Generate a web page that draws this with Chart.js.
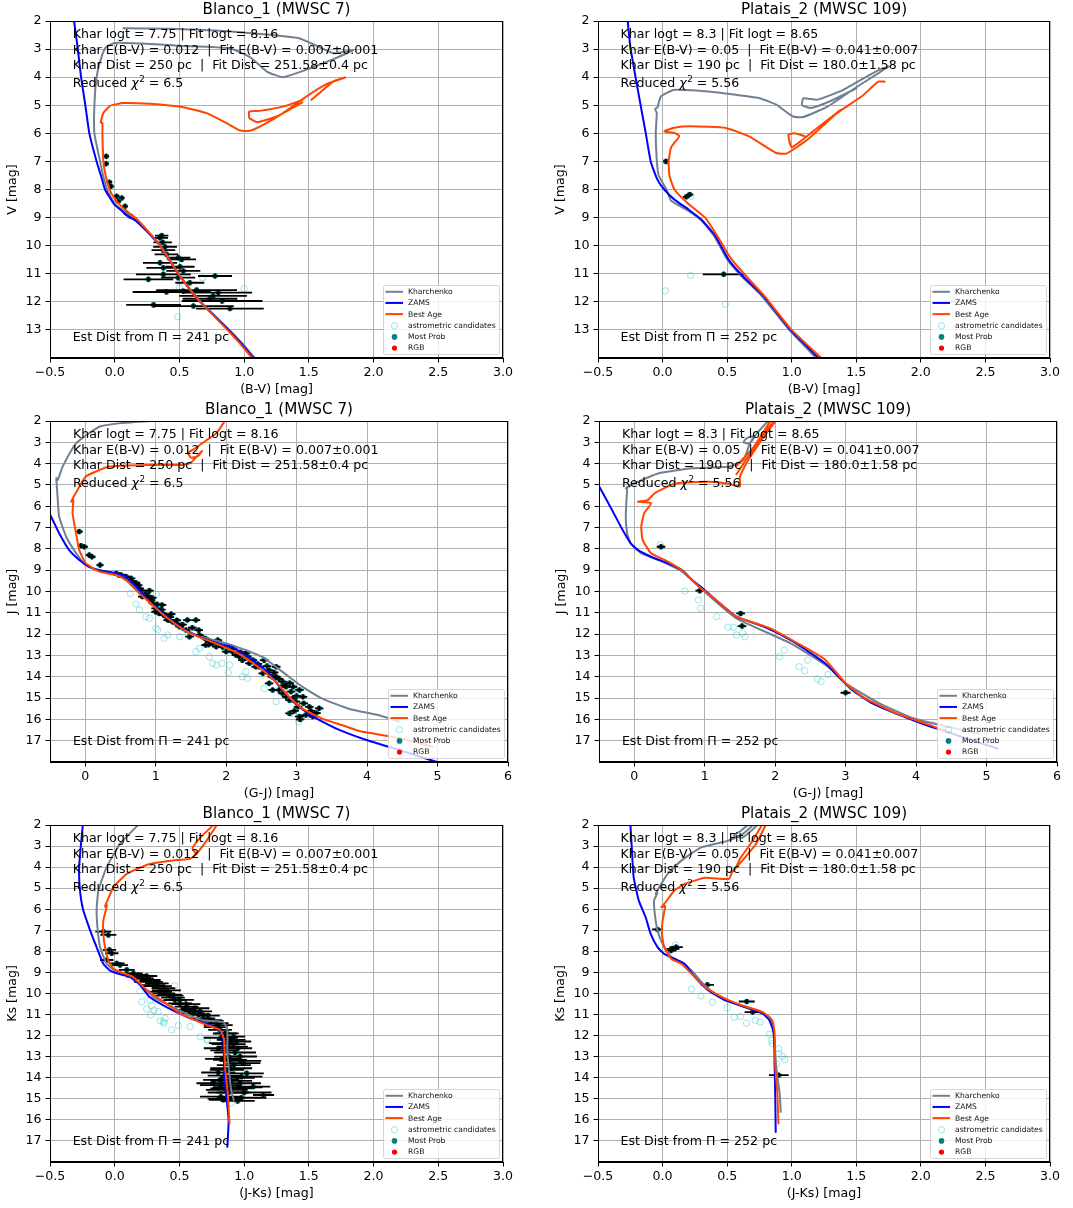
<!DOCTYPE html>
<html>
<head>
<meta charset="utf-8">
<script src="https://cdn.jsdelivr.net/npm/chart.js@4.4.1/dist/chart.umd.min.js"></script>
<style>
  body { margin: 0; background: #fff; width: 1073px; height: 1208px; position: relative; overflow: hidden; }
  canvas { position: absolute; }
</style>
</head>
<body>
<canvas id="c1"></canvas>
<canvas id="c2"></canvas>
<canvas id="c3"></canvas>
<canvas id="c4"></canvas>
<canvas id="c5"></canvas>
<canvas id="c6"></canvas>
<script>
// ---- text ----
const blancoTitle = 'Blanco_1 (MWSC 7)';
const plataisTitle = 'Platais_2 (MWSC 109)';
const blancoInfo = ['Khar logt = 7.75 | Fit logt = 8.16',
  'Khar E(B-V) = 0.012  |  Fit E(B-V) = 0.007\u00b10.001',
  'Khar Dist = 250 pc  |  Fit Dist = 251.58\u00b10.4 pc'];
const plataisInfo = ['Khar logt = 8.3 | Fit logt = 8.65',
  'Khar E(B-V) = 0.05  |  Fit E(B-V) = 0.041\u00b10.007',
  'Khar Dist = 190 pc  |  Fit Dist = 180.0\u00b11.58 pc'];
const blancoChi = '6.5', plataisChi = '5.56';
const blancoEst = 'Est Dist from \u03a0 = 241 pc', plataisEst = 'Est Dist from \u03a0 = 252 pc';
const legendLabels = ['Kharchenko', 'ZAMS', 'Best Age', 'astrometric candidates', 'Most Prob', 'RGB'];

// ---- Blanco_1, (B-V) vs V ----
const b1_bv_zams = [[-0.314,2],[-0.285,3],[-0.26,4],[-0.227,5],[-0.196,6],[-0.14,7],[-0.1,7.6],[-0.075,8],[-0.036,8.3],[0.0,8.55],[0.06,8.78],[0.1,8.95],[0.16,9.1],[0.25,9.5],[0.35,10],[0.42,10.5],[0.49,11],[0.57,11.5],[0.66,12],[0.77,12.5],[0.88,13],[0.98,13.5],[1.08,14.05]];
const b1_bv_khar = [[1.09,14.05],[0.99,13.5],[0.885,13],[0.775,12.5],[0.665,12],[0.575,11.5],[0.495,11],[0.425,10.5],[0.355,10],[0.26,9.5],[0.16,9.05],[0.08,8.8],[0.0,8.5],[-0.05,8.1],[-0.09,7.5],[-0.113,7],[-0.157,6],[-0.157,5],[-0.14,4],[-0.11,3.4],[-0.07,2.95],[0.0,2.78],[0.2,2.8],[0.5,2.88],[0.89,2.97],[1.05,3.3],[1.175,3.8],[1.30,4.0],[1.5,3.7],[1.69,3.36],[1.845,3.03],[1.69,3.15],[1.43,2.62],[0.92,2.38],[0.40,2.28],[0.067,2.26]];
const b1_bv_best = [[1.07,14.05],[0.97,13.5],[0.87,13],[0.765,12.5],[0.66,12],[0.57,11.5],[0.49,11],[0.42,10.5],[0.35,10],[0.26,9.5],[0.17,9.05],[0.1,8.8],[0.02,8.45],[-0.03,8.1],[-0.07,7.5],[-0.088,7],[-0.095,6],[-0.095,5.64],[-0.108,5.61],[-0.088,5.28],[-0.036,5.02],[0.067,4.92],[0.27,4.95],[0.53,5.07],[0.71,5.28],[0.866,5.64],[0.97,5.9],[1.046,5.91],[1.15,5.69],[1.30,5.28],[1.48,4.69],[1.64,4.24],[1.78,4.01],[1.69,4.15],[1.52,4.81],null,[1.45,4.81],[1.3,5.05],[1.12,5.2],[1.04,5.22],[1.04,5.45],[1.1,5.6],[1.25,5.4],[1.45,4.9]];
const b1_bv_astro = [[0.68,11.14],[1.0,11.53],[0.487,12.53],[0.5,11.5]];
// [colour, mag, colour error]
const b1_bv_prob = [[-0.065,6.82,0.01],[-0.067,7.08,0.01],[-0.041,7.74,0.01],[-0.029,7.89,0.01],[0.015,8.24,0.01],[0.028,8.42,0.01],[0.054,8.30,0.01],[0.08,8.6,0.01],[0.087,8.83,0.01],[0.123,8.95,0.01],
  [0.363,9.64,0.04],[0.35,9.72,0.05],[0.37,9.88,0.06],[0.389,10.04,0.08],[0.376,10.16,0.08],[0.40,10.31,0.08],[0.492,10.43,0.08],[0.517,10.49,0.1],[0.35,10.61,0.12],[0.505,10.75,0.1],[0.376,10.79,0.12],[0.53,10.9,0.12],[0.26,11.2,0.18],[0.376,11.02,0.2],[0.49,11.14,0.12],[0.775,11.08,0.12],[0.58,11.32,0.1],[0.633,11.58,0.3],[0.40,11.65,0.25],[0.53,11.62,0.2],[0.76,11.79,0.25],[0.80,11.67,0.25],[0.736,11.89,0.2],[0.83,11.97,0.3],[0.30,12.11,0.2],[0.608,12.15,0.3],[0.89,12.24,0.25]];

// ---- Platais_2, (B-V) vs V ----
const p2_bv_zams = [[-0.27,2],[-0.25,2.9],[-0.21,3.98],[-0.17,5],[-0.13,6],[-0.092,7],[-0.04,7.65],[0.013,8.0],[0.092,8.36],[0.2,8.71],[0.30,9.07],[0.41,9.66],[0.51,10.49],[0.62,11.08],[0.78,11.79],[0.99,13.0],[1.22,14.05]];
const p2_bv_khar = [[1.2,14.05],[0.98,13],[0.77,11.8],[0.61,11.08],[0.5,10.49],[0.4,9.66],[0.3,9.1],[0.18,8.7],[0.066,8.4],[0.03,8.0],[-0.03,7.5],[-0.045,6.94],[-0.053,5.99],[-0.045,5.28],[-0.058,5.12],[-0.04,5.08],[-0.013,4.69],[0.092,4.45],[0.355,4.51],[0.75,4.75],[0.88,4.98],[1.01,5.40],[1.09,5.42],[1.28,5.04],[1.50,4.36],[1.75,3.62],[1.65,3.8],[1.4,4.45],[1.2,4.8],[1.09,4.75],[1.08,5.0],[1.15,5.1],[1.3,4.85],[1.5,4.4]];
const p2_bv_best = [[1.24,14.05],[1.0,13],[0.79,11.8],[0.63,11.0],[0.52,10.4],[0.43,9.7],[0.33,9.0],[0.197,8.5],[0.092,8.0],[0.053,7.5],[0.047,7.0],[0.066,6.5],[0.13,6.1],[0.092,5.99],[0.013,5.93],[0.09,5.8],[0.22,5.75],[0.49,5.81],[0.67,6.11],[0.88,6.7],[0.96,6.72],[1.12,6.23],[1.35,5.28],[1.54,4.69],[1.67,4.16],[1.72,4.16],null,[1.38,5.16],[1.2,5.8],[1.0,6.5],[0.975,6.05],[1.02,6.0],[1.1,6.1]];
const p2_bv_astro = [[0.218,11.06],[0.021,11.61],[0.486,12.09],[0.22,8.24]];
const p2_bv_prob = [[0.026,7.0,0.01],[0.184,8.26,0.015],[0.21,8.18,0.015],[0.473,11.02,0.15]];

// ---- Blanco_1, (G-J) vs J ----
const b1_gj_zams = [[-0.6,6.1],[-0.51,6.33],[-0.37,7.27],[-0.23,8.05],[-0.085,8.52],[0.057,8.84],[0.2,9.0],[0.44,9.15],[0.58,9.3],[0.72,9.77],[0.909,10.45],[1.146,11.15],[1.38,11.72],[1.62,12.12],[1.86,12.42],[2.09,12.61],[2.42,13.32],[2.61,13.86],[2.8,14.65],[2.99,15.28],[3.18,15.75],[3.42,16.2],[3.63,16.53],[3.99,16.97],[4.46,17.44],[4.98,17.99],[5.1,18.1]];
const b1_gj_khar = [[0.91,2.0],[0.5,2.1],[0.2,2.27],[-0.13,3.05],[-0.32,4.14],[-0.39,4.77],[-0.41,4.68],[-0.4,5.2],[-0.39,5.7],[-0.37,6.49],[-0.27,7.43],[-0.13,8.2],[0.01,8.76],[0.2,9.0],[0.44,9.17],[0.58,9.32],[0.72,9.8],[0.91,10.5],[1.15,11.18],[1.48,11.98],[1.86,12.3],[2.23,12.69],[2.52,13.08],[2.71,13.55],[2.9,14.02],[3.09,14.49],[3.37,15.04],[3.75,15.51],[4.18,15.82],[4.45,16.1]];
const b1_gj_best = [[2.0,1.9],[1.86,2.58],[1.7,2.95],[1.55,3.3],[1.46,3.5],[1.5,3.72],[1.6,3.65],[1.66,3.4],[1.6,3.6],[1.5,3.95],[1.38,4.06],[0.91,4.06],[0.34,4.14],[0.01,4.6],[-0.11,5.24],[-0.2,5.79],[-0.17,5.7],[-0.18,6.33],[-0.13,7.27],[-0.085,8.05],[0.01,8.68],[0.2,9.07],[0.44,9.23],[0.58,9.46],[0.77,10.09],[0.909,10.49],[1.146,11.2],[1.38,11.75],[1.62,12.14],[1.86,12.45],[2.14,12.85],[2.33,13.24],[2.52,13.71],[2.71,14.26],[2.9,14.96],[3.09,15.51],[3.37,15.98],[3.66,16.29],[3.87,16.53],[4.0,16.62],[4.46,16.89],[4.93,17.28]];
const b1_gj_astro = [[0.64,10.09],[0.72,10.59],[0.77,10.87],[0.86,11.18],[0.91,11.26],[1.0,11.73],[1.12,12.2],[1.17,12.04],[1.34,12.12],[1.57,12.82],[1.62,12.67],[1.76,13.06],[1.81,13.37],[1.86,13.45],[1.94,13.37],[2.05,13.45],[2.03,13.81],[2.23,14.0],[2.3,14.08],[2.28,13.76],[2.54,14.55],[2.71,15.17],[2.95,15.72],[3.03,16.11],[1.01,10.12],[1.03,11.8]];
const b1_gj_prob = [[-0.085,7.19,0.03],[-0.06,7.85,0.03],[-0.014,7.9,0.03],[0.057,8.29,0.03],[0.095,8.37,0.03],[0.21,8.76,0.03],[0.44,9.15,0.04],[0.51,9.23,0.04],[0.65,9.38,0.04],[0.67,9.54,0.04],[0.72,9.59,0.04],[0.77,9.85,0.04],[0.86,10.09,0.04],[0.91,9.96,0.04],[0.96,10.56,0.04],[1.0,10.79,0.04],[1.09,10.63,0.04],[1.05,11.03,0.04],[1.15,11.18,0.04],[1.22,11.06,0.04],[1.29,11.5,0.04],[1.45,11.34,0.04],[1.57,11.34,0.04],[1.61,11.81,0.04],[1.48,12.12,0.04],[1.71,12.51,0.04],[1.81,12.43,0.04],[1.88,12.28,0.04],[2.05,12.59,0.04],[2.09,12.82,0.04],[2.19,13.06,0.04],[2.28,12.9,0.04],[2.38,13.22,0.04],[2.47,13.53,0.04],[2.54,13.22,0.04],[2.61,13.69,0.04],[2.71,13.53,0.04],[2.71,14.0,0.04],[2.8,14.23,0.04],[2.85,14.47,0.04],[2.95,14.47,0.04],[3.04,14.62,0.04],[2.95,15.01,0.04],[3.09,14.94,0.04],[3.18,15.41,0.04],[3.02,15.41,0.04],[3.32,15.48,0.04],[3.13,15.8,0.04],[2.9,15.1,0.04],[2.8,14.78,0.04],[2.66,14.62,0.04],[2.61,14.31,0.04],[2.52,13.84,0.04],[2.42,13.53,0.04],[2.33,13.37,0.04],[2.23,13.22,0.04],[2.14,12.98,0.04],[2.0,12.82,0.04],[1.86,12.59,0.04],[1.76,12.36,0.04],[1.62,12.04,0.04],[1.43,11.81,0.04],[1.34,11.65,0.04],[1.24,11.42,0.04],[1.17,11.34,0.04],[1.1,11.03,0.04],[1.0,10.95,0.04],[0.93,10.4,0.04],[0.81,10.24,0.04],[0.7,9.7,0.04],[0.58,9.3,0.04],[0.48,9.23,0.04],[2.9,15.72,0.04],[3.23,15.87,0.04],[3.04,15.87,0.04],[2.75,14.62,0.04],[2.85,14.94,0.04],[2.99,15.17,0.04],
  [0.55,9.3,0.04],[0.62,9.45,0.04],[0.75,9.7,0.04],[0.8,9.95,0.04],[0.88,10.2,0.04],[0.95,10.3,0.04],[1.02,10.6,0.04],[1.08,10.85,0.04],[1.12,11.1,0.04],[1.2,11.2,0.04],[1.3,11.35,0.04],[1.38,11.55,0.04],[1.52,11.7,0.04],[1.7,12.2,0.04],[1.75,12.5,0.04],[1.95,12.6,0.04],[2.1,12.7,0.04],[2.2,12.85,0.04],[2.3,13.05,0.04],[2.45,13.4,0.04],[2.58,13.5,0.04],[2.68,13.8,0.04],[2.75,14.1,0.04],[2.9,14.3,0.04],[2.92,14.7,0.04],[3.0,14.9,0.04],[3.1,15.25,0.04],[3.2,15.6,0.04],[2.97,15.6,0.04],[3.28,15.7,0.04],[3.05,16.0,0.04],[2.82,14.4,0.04],[2.65,14.0,0.04]];

// ---- Platais_2, (G-J) vs J ----
const p2_gj_zams = [[-0.55,4.9],[-0.51,5.0],[-0.34,6.02],[-0.19,6.96],[-0.05,7.74],[0.05,8.05],[0.24,8.37],[0.48,8.68],[0.68,9.0],[0.82,9.46],[0.97,9.85],[1.16,10.4],[1.45,11.18],[1.84,11.65],[2.22,12.28],[2.51,12.9],[2.71,13.37],[2.9,14.0],[3.09,14.62],[3.38,15.25],[3.77,15.8],[4.2,16.34],[4.44,16.58],[4.8,17.0],[5.16,17.37]];
const p2_gj_khar = [[1.93,1.9],[1.74,2.58],[1.64,3.05],[1.55,3.0],[1.6,2.8],[1.7,2.7],[1.64,3.05],[1.55,3.83],[1.35,4.14],[0.82,4.22],[0.34,4.46],[0.0,4.93],[-0.12,5.16],[-0.1,5.1],[-0.11,5.71],[-0.12,6.49],[-0.1,7.27],[-0.05,7.74],[0.1,8.21],[0.34,8.52],[0.68,9.07],[0.97,9.93],[1.45,11.26],[2.22,12.43],[2.75,13.53],[3.0,14.31],[3.48,15.25],[3.96,15.95],[4.44,16.34],[4.88,16.66]];
const p2_gj_best = [[2.03,1.9],[1.84,2.74],[1.59,3.99],[1.5,4.61],[1.5,5.08],[1.35,4.95],[1.06,4.85],[0.58,4.93],[0.29,5.39],[0.19,5.71],[0.05,5.79],[0.24,5.86],[0.14,6.33],[0.1,6.96],[0.12,7.58],[0.24,8.21],[0.43,8.52],[0.68,9.0],[0.92,9.77],[1.16,10.4],[1.45,11.18],[1.93,11.73],[2.32,12.43],[2.71,13.2],[3.0,14.31],[3.24,14.94],[3.72,15.72],[4.2,16.27],[4.44,16.58],null,[2.0,1.9],[1.75,3.0],[1.55,4.0],[1.45,4.5],null,[1.95,1.9],[1.7,3.2],[1.45,4.1]];
const p2_gj_astro = [[0.37,7.8],[0.72,9.98],[0.91,10.4],[0.94,10.79],[1.17,11.18],[1.33,11.68],[1.41,11.68],[1.45,12.04],[1.54,11.96],[1.57,12.12],[2.06,13.06],[2.13,12.75],[2.34,13.53],[2.42,13.72],[2.46,13.22],[2.6,14.11],[2.65,14.22],[2.75,13.89]];
const p2_gj_prob = [[0.38,7.9,0.04],[0.93,9.96,0.04],[1.51,11.03,0.04],[1.53,11.62,0.04],[3.0,14.75,0.05]];

// ---- Blanco_1, (J-Ks) vs Ks ----
const b1_jk_zams = [[-0.245,1.9],[-0.262,3.0],[-0.275,4.0],[-0.27,5.0],[-0.245,6.0],[-0.19,7.0],[-0.14,7.8],[-0.088,8.59],[-0.036,8.91],[0.028,9.06],[0.12,9.22],[0.2,9.62],[0.27,10.17],[0.4,10.65],[0.56,11.12],[0.71,11.44],[0.81,11.75],[0.84,12.23],[0.845,13.49],[0.86,14.75],[0.88,16.02],[0.87,17.28]];
const b1_jk_khar = [[0.196,1.9],[0.041,2.9],[-0.062,4.0],[-0.126,5.11],[-0.14,6.06],[-0.131,7.01],[-0.113,7.8],[-0.062,8.59],[0.0,8.91],[0.08,9.06],[0.17,9.38],[0.3,10.17],[0.45,10.65],[0.61,11.12],[0.69,11.28],[0.84,11.36],[0.87,11.75],[0.87,12.7],[0.88,13.49],[0.9,14.6],[0.92,15.07]];
const b1_jk_best = [[0.8,1.9],[0.71,2.74],[0.63,3.38],[0.58,3.61],[0.48,3.66],[0.27,3.85],[0.093,4.32],[-0.01,4.96],[-0.057,5.59],[-0.075,5.87],[-0.06,5.8],[-0.088,6.54],[-0.088,7.17],[-0.075,7.8],[-0.049,8.43],[-0.01,8.83],[0.067,9.04],[0.144,9.22],[0.247,9.83],[0.38,10.4],[0.505,10.94],[0.71,11.49],[0.814,11.73],[0.845,12.2],[0.853,13.49],[0.874,14.75],[0.887,16.17],null,[0.78,1.9],[0.66,2.6],[0.6,3.1],[0.63,3.38]];
const b1_jk_astro = [[0.461,9.64],[0.196,9.88],[0.209,10.39],[0.273,10.31],[0.247,10.73],[0.286,10.59],[0.278,11.02],[0.304,10.81],[0.337,10.86],[0.35,11.3],[0.381,11.41],[0.389,11.18],[0.44,11.73],[0.492,11.52],[0.582,11.57],[0.66,12.05],[0.711,12.17],[0.718,12.24],[0.9,15.21],[0.376,11.34]];
const b1_jk_prob = [[-0.088,7.06,0.05],[-0.049,7.22,0.05],[-0.041,7.93,0.04],[-0.023,8.09,0.04],[-0.062,8.41,0.04],[0.015,8.57,0.05],[0.041,8.65,0.05],[0.093,8.88,0.05],[0.144,9.04,0.06],[0.183,9.12,0.06],[0.247,9.17,0.07],[0.22,9.28,0.07],[0.273,9.36,0.07],[0.325,9.52,0.08],[0.3,9.6,0.08],[0.376,9.75,0.08],[0.35,9.91,0.08],[0.376,9.99,0.08],[0.428,10.07,0.08],[0.45,10.2,0.08],[0.466,10.31,0.08],[0.505,10.47,0.08],[0.556,10.62,0.08],[0.53,10.78,0.08],[0.58,10.85,0.08],[0.608,10.94,0.08],[0.65,11.0,0.08],[0.685,11.18,0.08],[0.737,11.26,0.08],[0.788,11.41,0.08],[0.78,11.6,0.08],[0.814,11.73,0.08],[0.866,11.89,0.08],[0.85,11.9,0.08],[0.917,12.05,0.08],[0.9,12.2,0.1],[0.943,12.28,0.1],[0.84,12.36,0.1],[0.917,12.52,0.1],[0.95,12.6,0.1],[0.85,12.7,0.1],[0.968,12.99,0.12],[0.88,13.0,0.1],[0.891,13.15,0.12],[0.994,13.31,0.12],[0.92,13.4,0.12],[0.866,13.63,0.12],[1.02,13.79,0.12],[0.85,13.9,0.12],[0.95,14.0,0.12],[0.814,14.1,0.12],[0.968,14.26,0.15],[0.763,14.26,0.12],[1.07,14.42,0.12],[0.9,14.5,0.15],[0.866,14.58,0.15],[1.0,14.7,0.2],[1.15,14.82,0.07],[0.82,14.9,0.15],[0.84,15.05,0.1],[0.95,15.1,0.12],
  [0.18,9.2,0.08],[0.26,9.45,0.1],[0.33,9.65,0.1],[0.4,9.85,0.1],[0.42,10.1,0.1],[0.5,10.3,0.1],[0.55,10.5,0.1],[0.62,10.7,0.1],[0.66,10.85,0.08],[0.72,11.05,0.08],[0.75,11.3,0.08],[0.8,11.5,0.1],[0.82,12.1,0.12],[0.88,12.4,0.12],[0.8,12.6,0.1],[0.93,12.8,0.15],[0.83,13.1,0.12],[0.97,13.2,0.15],[0.9,13.55,0.15],[0.8,13.75,0.12],[0.98,13.95,0.15],[0.9,14.15,0.15],[0.82,14.35,0.15],[0.95,14.45,0.18],[0.88,14.7,0.15],[0.98,14.95,0.18],[0.85,15.0,0.12]];

// ---- Platais_2, (J-Ks) vs Ks ----
const p2_jk_zams = [[-0.25,1.9],[-0.237,3.22],[-0.224,4.48],[-0.184,5.59],[-0.131,6.38],[-0.092,7.17],[-0.039,7.8],[0.013,8.12],[0.092,8.35],[0.17,8.59],[0.25,9.22],[0.355,9.86],[0.486,10.33],[0.67,10.72],[0.776,10.96],[0.828,11.28],[0.862,11.91],[0.868,13.49],[0.873,15.07],[0.876,16.57]];
const p2_jk_khar = [[0.72,1.9],[0.62,2.43],[0.51,2.74],[0.30,3.06],[0.145,3.69],[0.039,4.32],[-0.026,4.96],[-0.053,5.27],[-0.04,5.22],[-0.066,5.59],[-0.06,6.22],[-0.039,7.01],[0.0,7.64],[0.066,8.27],[0.145,8.51],[0.224,8.91],[0.302,9.46],[0.408,10.01],[0.565,10.49],[0.723,10.8],[0.828,11.12],[0.855,11.59],[0.88,13.49],[0.907,14.75],[0.915,15.62],null,[0.68,1.9],[0.6,2.3],[0.55,2.5],[0.62,2.6],[0.7,2.2],[0.75,1.9]];
const p2_jk_best = [[0.807,1.9],[0.723,2.9],[0.618,3.69],[0.539,4.24],[0.513,4.56],[0.33,4.51],[0.171,4.8],[0.092,5.11],[0.013,5.75],[-0.01,5.9],[0.02,5.85],[0.0,6.54],[-0.005,7.17],[0.013,7.8],[0.066,8.35],[0.145,8.59],[0.224,9.06],[0.329,9.7],[0.46,10.17],[0.618,10.57],[0.776,10.88],[0.85,11.28],[0.868,11.91],[0.873,13.49],[0.889,14.75],[0.897,16.17],null,[0.78,1.9],[0.68,2.9],[0.6,3.6],[0.57,4.0]];
const p2_jk_astro = [[0.224,9.79],[0.297,10.12],[0.386,10.41],[0.502,10.68],[0.555,11.12],[0.602,11.09],[0.65,11.4],[0.718,11.28],[0.755,11.36],[0.828,11.93],[0.844,12.23],[0.849,12.38],[0.9,12.62],[0.9,12.86],[0.928,12.98],[0.947,13.14],[0.881,13.33],[0.1,7.7]];
const p2_jk_prob = [[-0.039,6.96,0.03],[0.079,7.88,0.04],[0.105,7.8,0.04],[0.066,7.96,0.03],[0.347,9.59,0.04],[0.652,10.38,0.05],[0.697,10.88,0.05],[0.9,13.88,0.065]];

// ---- panels ----
const panels = [
  {id:'c1', box:[50,21,503,358], xr:[-0.5,3], yr:[2,14], lab:0.5, xlab:'(B-V) [mag]', ylab:'V [mag]',
   title:blancoTitle, info:blancoInfo, chi:blancoChi, est:blancoEst,
   khar:b1_bv_khar, zams:b1_bv_zams, best:b1_bv_best, astro:b1_bv_astro, prob:b1_bv_prob},
  {id:'c2', box:[598,21,1050,358], xr:[-0.5,3], yr:[2,14], lab:0.5, xlab:'(B-V) [mag]', ylab:'V [mag]',
   title:plataisTitle, info:plataisInfo, chi:plataisChi, est:plataisEst,
   khar:p2_bv_khar, zams:p2_bv_zams, best:p2_bv_best, astro:p2_bv_astro, prob:p2_bv_prob},
  {id:'c3', box:[50,421,508,762], xr:[-0.5,6], yr:[2,18], lab:1, xlab:'(G-J) [mag]', ylab:'J [mag]',
   title:blancoTitle, info:blancoInfo, chi:blancoChi, est:blancoEst,
   khar:b1_gj_khar, zams:b1_gj_zams, best:b1_gj_best, astro:b1_gj_astro, prob:b1_gj_prob},
  {id:'c4', box:[599,421,1057,762], xr:[-0.5,6], yr:[2,18], lab:1, xlab:'(G-J) [mag]', ylab:'J [mag]',
   title:plataisTitle, info:plataisInfo, chi:plataisChi, est:plataisEst,
   khar:p2_gj_khar, zams:p2_gj_zams, best:p2_gj_best, astro:p2_gj_astro, prob:p2_gj_prob},
  {id:'c5', box:[50,825,503,1162], xr:[-0.5,3], yr:[2,18], lab:0.5, xlab:'(J-Ks) [mag]', ylab:'Ks [mag]',
   title:blancoTitle, info:blancoInfo, chi:blancoChi, est:blancoEst,
   khar:b1_jk_khar, zams:b1_jk_zams, best:b1_jk_best, astro:b1_jk_astro, prob:b1_jk_prob},
  {id:'c6', box:[598,825,1050,1162], xr:[-0.5,3], yr:[2,18], lab:0.5, xlab:'(J-Ks) [mag]', ylab:'Ks [mag]',
   title:plataisTitle, info:plataisInfo, chi:plataisChi, est:plataisEst,
   khar:p2_jk_khar, zams:p2_jk_zams, best:p2_jk_best, astro:p2_jk_astro, prob:p2_jk_prob}
];

const FAM = 'DejaVu Sans';
const FS = 12.6;
const LEFT = 50, TOP = 21, XH = 44, RIGHT = 14;

function pts(a) {
  return a.map(p => p ? {x: p[0], y: p[1]} : {x: null, y: null});
}

function drawChi(ctx, x, y, chi) {
  ctx.font = FS + 'px ' + FAM;
  ctx.fillText('Reduced ', x, y);
  x += ctx.measureText('Reduced ').width;
  ctx.font = 'italic ' + FS + 'px ' + FAM;
  ctx.fillText('\u03c7', x, y);
  x += ctx.measureText('\u03c7').width + 0.5;
  ctx.font = '8.8px ' + FAM;
  ctx.fillText('2', x, y - 5);
  x += ctx.measureText('2').width;
  ctx.font = FS + 'px ' + FAM;
  ctx.fillText(' = ' + chi, x, y);
}

const decor = {
  id: 'decor',
  afterDatasetDraw(chart, args) {
    const ds = chart.data.datasets[args.index];
    if (!ds.errs) return;
    const {ctx, chartArea: a} = chart;
    const xs = chart.scales.x, ys = chart.scales.y;
    ctx.save();
    ctx.beginPath();
    ctx.rect(a.left, a.top, a.right - a.left, a.bottom - a.top);
    ctx.clip();
    ctx.strokeStyle = 'black';
    ctx.lineWidth = 1.8;
    ds.data.forEach((p, i) => {
      const e = ds.errs[i];
      const px = xs.getPixelForValue(p.x), py = ys.getPixelForValue(p.y);
      ctx.beginPath();
      ctx.moveTo(xs.getPixelForValue(p.x - e) - 1.5, py);
      ctx.lineTo(xs.getPixelForValue(p.x + e) + 1.5, py);
      ctx.moveTo(px, py - 2.5);
      ctx.lineTo(px, py + 2.5);
      ctx.stroke();
    });
    ctx.restore();
  },
  afterDraw(chart, args, o) {
    const {ctx, chartArea: a} = chart;
    ctx.save();
    // frame
    ctx.strokeStyle = 'black';
    ctx.lineWidth = 1;
    ctx.strokeRect(a.left + 0.5, a.top + 0.5, a.right - a.left - 1, a.bottom - a.top - 1);
    // title
    ctx.fillStyle = 'black';
    ctx.textAlign = 'center';
    ctx.textBaseline = 'alphabetic';
    ctx.font = '15.2px ' + FAM;
    ctx.fillText(o.title, (a.left + a.right) / 2, a.top - 7);
    // fit info
    ctx.textAlign = 'left';
    ctx.font = FS + 'px ' + FAM;
    const tx = a.left + 0.05 * (a.right - a.left);
    o.info.forEach((s, i) => ctx.fillText(s, tx, a.top + 17.3 + i * 15.4));
    drawChi(ctx, tx, a.top + 66.3, o.chi);
    ctx.font = FS + 'px ' + FAM;
    ctx.fillText(o.est, tx, a.bottom - 17);
    // legend
    const w = 116, h = 69;
    const bx = a.right - 4 - w, by = a.bottom - 4 - h;
    ctx.fillStyle = 'rgba(255,255,255,0.8)';
    ctx.strokeStyle = 'rgba(204,204,204,0.8)';
    ctx.beginPath();
    ctx.roundRect(bx + 0.5, by + 0.5, w, h, 2);
    ctx.fill();
    ctx.stroke();
    ctx.font = '7.6px ' + FAM;
    ctx.textBaseline = 'middle';
    legendLabels.forEach((lab, i) => {
      const ds = chart.data.datasets.find(d => d.label === lab);
      const cy = by + 6.8 + i * 11.15;
      if (ds.showLine) {
        ctx.strokeStyle = ds.borderColor;
        ctx.lineWidth = 2;
        ctx.beginPath();
        ctx.moveTo(bx + 2.5, cy);
        ctx.lineTo(bx + 20, cy);
        ctx.stroke();
      } else {
        ctx.beginPath();
        ctx.arc(bx + 11.5, cy + 0.5, ds.pointRadius, 0, Math.PI * 2);
        if (ds.pointBorderWidth > 0) {
          ctx.strokeStyle = ds.pointBorderColor;
          ctx.lineWidth = ds.pointBorderWidth;
          ctx.stroke();
        } else {
          ctx.fillStyle = ds.pointBackgroundColor;
          ctx.fill();
        }
      }
      ctx.fillStyle = '#111';
      ctx.fillText(lab, bx + 25, cy + 0.5);
    });
    ctx.restore();
  }
};

function near(v, step) {
  return Math.abs(v / step - Math.round(v / step)) < 1e-6;
}

panels.forEach(p => {
  const cv = document.getElementById(p.id);
  const [l, t, r, b] = p.box;
  const W = r - l + LEFT + RIGHT, H = b - t + TOP + XH;
  cv.width = W; cv.height = H;
  cv.style.left = (l - LEFT) + 'px';
  cv.style.top = (t - TOP) + 'px';
  cv.style.width = W + 'px';
  cv.style.height = H + 'px';

  const font = {family: FAM, size: FS};
  const lineSet = (label, data, color, order) => ({
    label, data: pts(data), showLine: true, borderColor: color, backgroundColor: color,
    borderWidth: 2, pointRadius: 0, pointHoverRadius: 0, tension: 0.15,
    borderJoinStyle: 'round', borderCapStyle: 'round', spanGaps: false, order
  });

  new Chart(cv, {
    type: 'scatter',
    data: {
      datasets: [
        lineSet('Best Age', p.best, '#ff4500', 1),
        lineSet('ZAMS', p.zams, '#0000ff', 2),
        lineSet('Kharchenko', p.khar, '#708090', 3),
        {label: 'Most Prob', data: pts(p.prob), errs: p.prob.map(q => q[2]),
         pointRadius: 2.8, pointBackgroundColor: '#008080', pointBorderWidth: 0, order: 4},
        {label: 'astrometric candidates', data: pts(p.astro),
         pointRadius: 3.2, pointBackgroundColor: 'rgba(0,0,0,0)',
         pointBorderColor: 'rgba(0,191,191,0.38)', pointBorderWidth: 1, order: 5},
        {label: 'RGB', data: [], pointRadius: 2.6, pointBackgroundColor: '#ff0000', pointBorderWidth: 0, order: 6}
      ]
    },
    options: {
      responsive: false,
      animation: false,
      events: [],
      devicePixelRatio: 1,
      layout: {padding: {left: 0, top: TOP, right: RIGHT, bottom: 0}},
      plugins: {
        legend: {display: false},
        tooltip: {enabled: false},
        decor: {title: p.title, info: p.info, chi: p.chi, est: p.est}
      },
      scales: {
        x: {
          type: 'linear', min: p.xr[0], max: p.xr[1],
          ticks: {stepSize: 0.5, font, color: 'black', padding: 3, maxRotation: 0, autoSkip: false,
            callback: v => p.lab < 1 ? (v < 0 ? '\u2212' : '') + Math.abs(v).toFixed(1) : String(Math.round(v))},
          grid: {color: '#b0b0b0', lineWidth: 1, tickLength: 4.5, tickColor: 'black', tickWidth: 1},
          border: {display: true, color: 'black', width: 1},
          title: {display: true, text: p.xlab, font, color: 'black', padding: {top: 0, bottom: 4.4}},
          afterBuildTicks: s => { s.ticks = s.ticks.filter(tk => near(tk.value, p.lab)); },
          afterFit: s => { s.height = XH; s.paddingLeft = 0; s.paddingRight = 0; }
        },
        y: {
          type: 'linear', reverse: true, min: p.yr[0], max: p.yr[1],
          ticks: {stepSize: 1, font, color: 'black', padding: 4, autoSkip: false},
          grid: {color: '#b0b0b0', lineWidth: 1, tickLength: 4.5, tickColor: 'black', tickWidth: 1},
          border: {display: true, color: 'black', width: 1},
          title: {display: true, text: p.ylab, font, color: 'black', padding: {top: 5.5, bottom: 0}},
          afterBuildTicks: s => { s.ticks = s.ticks.filter(tk => tk.value < p.yr[1] - 0.5); },
          afterFit: s => { s.width = LEFT; s.paddingTop = 0; s.paddingBottom = 0; }
        }
      }
    },
    plugins: [decor]
  });
});
</script>
</body>
</html>
